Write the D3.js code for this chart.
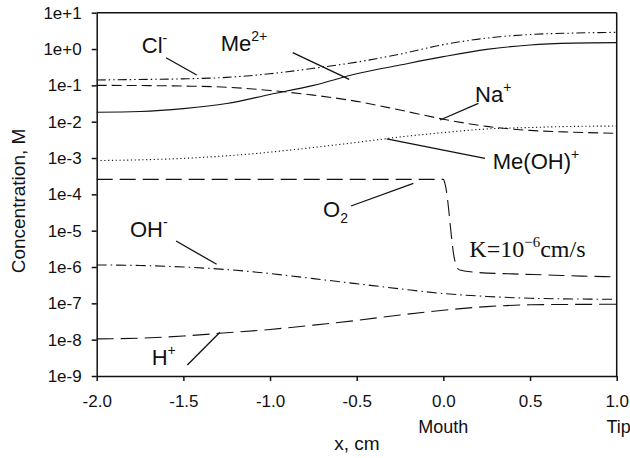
<!DOCTYPE html>
<html>
<head>
<meta charset="utf-8">
<script src="https://cdn.jsdelivr.net/npm/d3@7"></script>
<style>
  body { margin: 0; background: #fff; }
  svg { display: block; font-family: "Liberation Sans", Arial, sans-serif; }
</style>
</head>
<body>
<svg id="chart" width="630" height="458"></svg>
<script>
// distance along the crevice (cm), shared by most species
var xs = [-2.0, -1.75, -1.5, -1.25, -1.0, -0.75, -0.5, -0.25, 0.0, 0.25, 0.5, 0.75, 1.0];

// concentrations, M
var cl   = [0.141, 0.145, 0.151, 0.166, 0.209, 0.295, 0.437, 0.724, 1.32, 2.0, 2.51, 2.75, 2.88];
var me2  = [0.0182, 0.0191, 0.0229, 0.0316, 0.0562, 0.100, 0.209, 0.363, 0.617, 0.977, 1.29, 1.45, 1.50];
var na   = [0.100, 0.0989, 0.0955, 0.0891, 0.0724, 0.0537, 0.0363, 0.0209, 0.0117, 0.00741, 0.00575, 0.00513, 0.00479];
var meoh = [8.51e-4, 8.91e-4, 9.77e-4, 1.15e-3, 1.45e-3, 1.95e-3, 2.69e-3, 3.80e-3, 5.01e-3, 6.31e-3, 6.92e-3, 7.41e-3, 7.59e-3];
var oh   = [1.14e-6, 1.10e-6, 1.00e-6, 8.51e-7, 6.61e-7, 4.79e-7, 3.47e-7, 2.51e-7, 1.86e-7, 1.55e-7, 1.38e-7, 1.32e-7, 1.29e-7];
var hp   = [1.05e-8, 1.10e-8, 1.26e-8, 1.55e-8, 1.91e-8, 2.51e-8, 3.39e-8, 4.79e-8, 6.46e-8, 8.13e-8, 9.12e-8, 9.33e-8, 9.44e-8];

// oxygen has its own x grid because of the sharp drop at the mouth
var o2x  = [-2.0, -1.0, 0.0, 0.01, 0.065, 0.08, 0.1, 0.2, 0.4, 0.6, 0.8, 1.0];
var o2   = [2.59e-4, 2.59e-4, 2.59e-4, 1.91e-4, 1.58e-6, 9.33e-7, 8.13e-7, 7.08e-7, 6.46e-7, 6.03e-7, 5.62e-7, 5.37e-7];

var xTicks = [-2.0, -1.5, -1.0, -0.5, 0.0, 0.5, 1.0];
var xTickLabels = ["-2.0", "-1.5", "-1.0", "-0.5", "0.0", "0.5", "1.0"];
var yTicks = [1e1, 1e0, 1e-1, 1e-2, 1e-3, 1e-4, 1e-5, 1e-6, 1e-7, 1e-8, 1e-9];
var yTickLabels = ["1e+1", "1e+0", "1e-1", "1e-2", "1e-3", "1e-4", "1e-5", "1e-6", "1e-7", "1e-8", "1e-9"];

var svg = d3.select("#chart");
var mLeft = 96.7, mRight = 616.7, mTop = 12.7, mBottom = 376;

var x = d3.scaleLinear().domain([-2, 1]).range([mLeft, mRight]);
var y = d3.scaleLog().domain([1e-9, 1e1]).range([mBottom, mTop]);

// frame (top + right)
svg.append("line").attr("x1", mLeft).attr("x2", mRight).attr("y1", mTop).attr("y2", mTop)
  .attr("stroke", "#111").attr("stroke-width", 1.5);
svg.append("line").attr("x1", mRight).attr("x2", mRight).attr("y1", mTop).attr("y2", mBottom)
  .attr("stroke", "#111").attr("stroke-width", 1.5);

// axes
svg.append("g")
  .attr("transform", "translate(" + mLeft + ",0)")
  .call(d3.axisLeft(y).tickValues(yTicks).tickFormat(function(d, i) { return yTickLabels[i]; })
    .tickSize(5).tickSizeOuter(0).tickPadding(10));
svg.append("g")
  .attr("transform", "translate(0," + mBottom + ")")
  .call(d3.axisBottom(x).tickValues(xTicks).tickFormat(function(d, i) { return xTickLabels[i]; })
    .tickSize(5).tickSizeOuter(0).tickPadding(14));

svg.selectAll(".tick text").attr("font-size", 17).attr("font-family", "Liberation Sans, Arial, sans-serif").attr("fill", "#111");
svg.selectAll(".domain, .tick line").attr("stroke", "#111").attr("stroke-width", 1.5);

// axis titles
svg.append("text").attr("x", 357).attr("y", 450).attr("text-anchor", "middle")
  .attr("font-size", 19).attr("fill", "#111").text("x, cm");
svg.append("text").attr("x", x(0)).attr("y", 433).attr("text-anchor", "middle")
  .attr("font-size", 18).attr("fill", "#111").text("Mouth");
svg.append("text").attr("x", x(1) + 2).attr("y", 433).attr("text-anchor", "middle")
  .attr("font-size", 18).attr("fill", "#111").text("Tip");
svg.append("text").attr("transform", "translate(25,201) rotate(-90)").attr("text-anchor", "middle")
  .attr("font-size", 19).attr("fill", "#111").text("Concentration, M");

// curves
var series = [
  { xv: xs,  yv: cl,   dash: "9,3,1.5,3,1.5,3" },
  { xv: xs,  yv: me2,  dash: null },
  { xv: xs,  yv: na,   dash: "10,5" },
  { xv: xs,  yv: meoh, dash: "1.2,2.6" },
  { xv: o2x, yv: o2,   dash: "16,7" },
  { xv: xs,  yv: oh,   dash: "10,4,1.5,4" },
  { xv: xs,  yv: hp,   dash: "17,7" }
];

var line = d3.line()
  .x(function(d) { return x(d[0]); })
  .y(function(d) { return y(d[1]); })
  .curve(d3.curveMonotoneX);

svg.append("g").selectAll("path")
  .data(series)
  .enter()
  .append("path")
    .attr("d", function(s) { return line(d3.zip(s.xv, s.yv)); })
    .attr("fill", "none")
    .attr("stroke", "#111")
    .attr("stroke-width", 1.1)
    .attr("stroke-dasharray", function(s) { return s.dash; });

// labels: [x, log10 conc] for text and leader lines
var labels = [
  { main: "Cl",     sup: "-",  at: [-1.740, -0.096], lead: [[-1.600, -0.239], [-1.423, -0.715]] },
  { main: "Me",     sup: "2+", at: [-1.285, -0.046], lead: [[-0.869, -0.101], [-0.543, -0.833]] },
  { main: "Na",     sup: "+",  at: [0.183, -1.45],   lead: [[0.202, -1.494], [-0.019, -1.953]] },
  { main: "Me(OH)", sup: "+",  at: [0.285, -3.31],   lead: [[0.240, -3.008], [-0.327, -2.476]] },
  { main: "O",      sub: "2",  at: [-0.694, -4.615], lead: [[-0.533, -4.321], [-0.173, -3.696]] },
  { main: "OH",     sup: "-",  at: [-1.808, -5.166], lead: [[-1.542, -5.284], [-1.308, -5.925]] },
  { main: "H",      sup: "+",  at: [-1.683, -8.697], lead: [[-1.477, -8.697], [-1.289, -7.797]] }
];

labels.forEach(function(l) {
  svg.append("line")
    .attr("x1", x(l.lead[0][0])).attr("y1", y(Math.pow(10, l.lead[0][1])))
    .attr("x2", x(l.lead[1][0])).attr("y2", y(Math.pow(10, l.lead[1][1])))
    .attr("stroke", "#111").attr("stroke-width", 1.3);
  var t = svg.append("text")
    .attr("x", x(l.at[0])).attr("y", y(Math.pow(10, l.at[1])))
    .attr("font-size", 22).attr("fill", "#111");
  t.append("tspan").text(l.main);
  if (l.sup) t.append("tspan").attr("dy", -10).attr("font-size", 14).text(l.sup);
  if (l.sub) t.append("tspan").attr("dy", 6).attr("font-size", 14).text(l.sub);
});

// K annotation
var k = svg.append("text")
  .attr("x", x(0.150)).attr("y", y(Math.pow(10, -5.733)))
  .attr("font-family", "Liberation Serif, Times New Roman, serif")
  .attr("font-size", 24).attr("fill", "#111");
k.append("tspan").text("K=10");
k.append("tspan").attr("dy", -10).attr("font-size", 15).text("\u22126");
k.append("tspan").attr("dy", 10).text("cm/s");
</script>
</body>
</html>
